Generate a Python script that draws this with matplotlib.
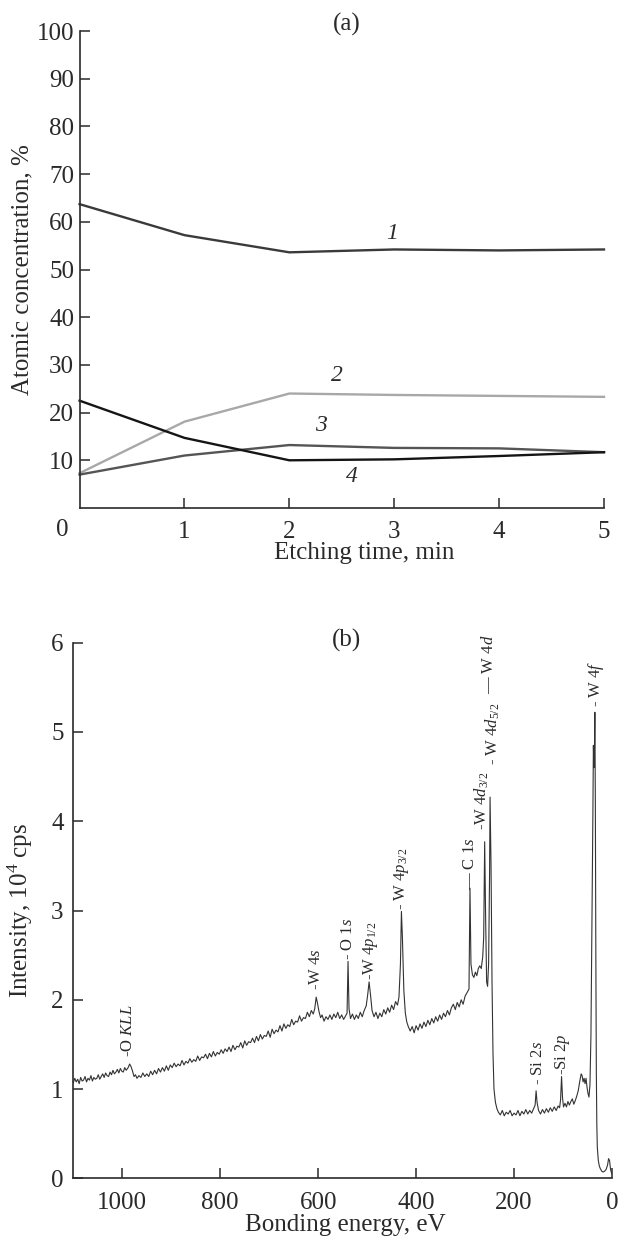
import numpy as np
import matplotlib
matplotlib.use('Agg')
import matplotlib.pyplot as plt

plt.rcParams['font.family'] = ['Liberation Serif', 'DejaVu Serif']
plt.rcParams['mathtext.fontset'] = 'custom'
plt.rcParams['mathtext.rm'] = 'Liberation Serif'
plt.rcParams['mathtext.it'] = 'Liberation Serif:italic'

# ---- (a) depth profile ----
etch_time = [0, 1, 2, 3, 4, 5]
conc_1 = [63.7, 57.2, 53.6, 54.2, 54.0, 54.2]
conc_2 = [7.3, 18.1, 24.0, 23.7, 23.5, 23.3]
conc_3 = [7.0, 11.0, 13.2, 12.6, 12.5, 11.7]
conc_4 = [22.5, 14.7, 10.0, 10.2, 10.9, 11.7]
curve_colors = ['#3a3a3a', '#a8a8a8', '#555555', '#151515']
curve_names = ['1', '2', '3', '4']
curve_label_pos = [(2.98, 57.6), (2.45, 27.8), (2.30, 17.3), (2.60, 6.6)]

# ---- (b) survey spectrum ----
be_high = [1100, 1097, 1094, 1091, 1088, 1085, 1082, 1079, 1076, 1073, 1070, 1067,
           1064, 1061, 1058, 1055, 1052, 1049, 1046, 1043, 1040, 1037, 1034, 1031,
           1028, 1025, 1022, 1019, 1016, 1013, 1010, 1007, 1004, 1001, 998, 995,
           992, 988, 985, 982, 979, 976, 973, 970, 966, 962, 958,
           954, 950, 946, 942, 938, 934, 930, 926, 922, 918, 914, 910, 906, 902,
           898, 894, 890, 886, 882, 878, 874, 870, 866, 862, 858, 854, 850, 846,
           842, 838, 834, 830, 826, 822, 818, 814, 810, 806, 802, 798, 794, 790,
           786, 782, 778, 774, 770, 766, 762, 758, 754, 750, 746, 742, 738, 734,
           730, 726, 722, 718, 714, 710, 706, 702, 698, 694, 690, 686, 682, 678,
           674, 670, 666, 662, 658, 654, 650, 646, 642, 638, 634, 630, 626, 622,
           618, 614, 610]
int_high = [1.07, 1.12, 1.08, 1.11, 1.06, 1.13, 1.09, 1.10, 1.14, 1.08, 1.12, 1.10,
            1.15, 1.09, 1.13, 1.11, 1.12, 1.16, 1.11, 1.14, 1.17, 1.13, 1.18, 1.15,
            1.14, 1.19, 1.16, 1.21, 1.17, 1.19, 1.22, 1.18, 1.23, 1.20, 1.19, 1.24,
            1.21, 1.24, 1.28, 1.25, 1.20, 1.14, 1.16, 1.12, 1.15,
            1.13, 1.18, 1.14, 1.17, 1.14, 1.20, 1.16, 1.21, 1.17, 1.23, 1.19, 1.24,
            1.20, 1.26, 1.21, 1.27, 1.24, 1.29, 1.25, 1.28, 1.26, 1.32, 1.27, 1.31,
            1.29, 1.34, 1.30, 1.33, 1.31, 1.37, 1.32, 1.36, 1.35, 1.39, 1.34, 1.40,
            1.36, 1.42, 1.37, 1.41, 1.39, 1.44, 1.40, 1.45, 1.42, 1.47, 1.42, 1.49,
            1.44, 1.48, 1.47, 1.52, 1.46, 1.54, 1.49, 1.53, 1.52, 1.57, 1.52, 1.59,
            1.54, 1.61, 1.56, 1.60, 1.59, 1.65, 1.58, 1.67, 1.62, 1.66, 1.64, 1.71,
            1.65, 1.73, 1.68, 1.72, 1.70, 1.78, 1.72, 1.76, 1.75, 1.82, 1.76, 1.80,
            1.79, 1.86, 1.81, 1.88, 1.84]
be_mid = [607, 604, 601, 598, 595, 592, 588, 584, 580, 576, 572, 568, 564, 560,
          556, 552, 548, 544, 541, 539, 537, 534, 530, 526, 522, 518, 514, 510,
          506, 502, 499, 496, 493, 490, 486, 482, 478, 474, 470, 466, 462, 458,
          454, 450, 446, 442, 438, 435, 432, 430, 428, 425, 422, 419, 416, 412,
          408, 404, 400, 396, 392, 388, 384, 380, 376, 372, 368, 364, 360, 356,
          352, 348, 344, 340, 336, 332, 328, 324, 320, 316, 312, 308, 304, 300,
          297, 294, 292, 290, 288, 285, 282, 279, 276, 273, 270, 267, 264, 262,
          260, 258, 256, 254, 252, 250, 249, 247, 245, 243, 241, 238, 235, 232]
int_mid = [1.90, 2.03, 1.95, 1.86, 1.80, 1.83, 1.76, 1.81, 1.78, 1.83, 1.78, 1.84,
           1.80, 1.86, 1.79, 1.83, 1.78, 1.82, 1.85, 2.43, 1.90, 1.79, 1.84, 1.78,
           1.83, 1.79, 1.86, 1.81, 1.88, 1.93, 2.05, 2.20, 2.05, 1.88, 1.81, 1.86,
           1.79, 1.85, 1.81, 1.89, 1.84, 1.91, 1.86, 1.94, 1.89, 1.98, 1.94, 2.03,
           2.40, 2.99, 2.70, 2.10, 1.85, 1.75, 1.70, 1.65, 1.70, 1.63, 1.71, 1.66,
           1.73, 1.68, 1.75, 1.70, 1.77, 1.72, 1.79, 1.74, 1.81, 1.76, 1.83, 1.78,
           1.85, 1.81, 1.88, 1.83, 1.91, 1.95, 1.89, 1.97, 1.92, 2.00, 1.95, 2.04,
           2.07, 2.10, 2.12, 3.25, 2.40, 2.28, 2.25, 2.31, 2.27, 2.35, 2.38, 2.35,
           2.48, 2.70, 3.77, 2.90, 2.20, 2.15, 2.40, 3.40, 4.27, 3.50, 2.20, 1.40,
           1.00, 0.85, 0.78, 0.74]
be_low = [228, 224, 220, 216, 212, 208, 204, 200, 196, 192, 188, 184, 180, 176,
          172, 168, 164, 160, 157, 155, 153, 150, 146, 142, 138, 134, 130, 126,
          122, 118, 114, 110, 107, 105, 103, 101, 99, 96, 93, 90, 87, 84, 81, 78,
          75, 72, 69, 66, 63, 61, 59, 57, 55, 53, 51, 49, 47, 45, 43, 41, 39, 38,
          37, 36, 35, 34, 33, 32, 31, 30, 28, 26, 24, 21, 18, 15, 12, 9, 7, 5, 3,
          1, 0]
int_low = [0.71, 0.76, 0.70, 0.74, 0.72, 0.76, 0.70, 0.73, 0.71, 0.76, 0.70, 0.75,
           0.72, 0.77, 0.72, 0.76, 0.73, 0.78, 0.82, 0.98, 0.85, 0.76, 0.72, 0.77,
           0.73, 0.78, 0.74, 0.79, 0.75, 0.80, 0.76, 0.81, 0.79, 0.88, 1.14, 0.90,
           0.80, 0.84, 0.80, 0.86, 0.82, 0.86, 0.89, 0.83, 0.87, 0.92, 0.98, 1.08,
           1.17, 1.15, 1.08, 1.12, 1.06, 1.12, 1.02, 0.95, 0.91, 1.05, 1.60, 2.80,
           4.10, 4.85, 4.60, 4.70, 5.22, 4.20, 2.50, 1.20, 0.60, 0.35, 0.20, 0.14,
           0.11, 0.08, 0.07, 0.08, 0.10, 0.15, 0.22, 0.20, 0.10, 0.06, 0.05]

# peak labels: (energy, intensity where text starts, text)
peak_labels = [
    (988, 1.36, r'-O $KLL$'),
    (604, 2.11, r'-W 4$s$'),
    (540, 2.44, r'- O 1$s$'),
    (494, 2.22, r'-W 4$p_{1/2}$'),
    (429, 3.00, r'- W 4$p_{3/2}$'),
    (290, 3.23, r'— C 1$s$'),
    (265, 3.90, r'-W 4$d_{3/2}$'),
    (243, 4.63, r'- W 4$d_{5/2}$'),
    (251, 5.42, r'— W 4$d$'),
    (33, 5.28, r'- W 4$f$'),
    (151, 1.04, r'- Si 2$s$'),
    (102, 1.16, r'-Si 2$p$'),
]

TICK_FS = 18
INK = '#2a2a2a'

fig = plt.figure(figsize=(6.21, 12.39), dpi=100)
W, H = 621.0, 1239.0


def style_axes(ax):
    for side in ['top', 'right']:
        ax.spines[side].set_visible(False)
    for side in ['left', 'bottom']:
        ax.spines[side].set_linewidth(1.2)
        ax.spines[side].set_color(INK)
    ax.tick_params(direction='in', length=7, width=1.1, color=INK,
                   labelsize=TICK_FS, labelcolor=INK)


# ================= panel (a) =================
ax1 = fig.add_axes([79.6 / W, 1 - 508 / H, 524.4 / W, 477 / H])
style_axes(ax1)
for vals, col in zip([conc_1, conc_2, conc_3, conc_4], curve_colors):
    ax1.plot(etch_time, vals, color=col, lw=1.7, clip_on=False)
for name, (lx, ly) in zip(curve_names, curve_label_pos):
    ax1.text(lx, ly, name, fontsize=17, style='italic', ha='center', va='center', color=INK)
ax1.set_xlim(0, 5)
ax1.set_ylim(0, 100)
ax1.set_xticks([1, 2, 3, 4, 5])
ax1.set_yticks(np.arange(10, 101, 10))
ax1.tick_params(axis='x', pad=9)
ax1.tick_params(axis='y', pad=4)
ax1.text(-17 / 524.4, -22 / 477, '0', transform=ax1.transAxes, fontsize=TICK_FS,
         ha='center', va='center', color=INK)
ax1.set_xlabel('Etching time, min', fontsize=TICK_FS, color=INK)
ax1.xaxis.set_label_coords(0.542, -0.072)
ax1.set_ylabel('Atomic concentration, %', fontsize=TICK_FS, color=INK)
ax1.yaxis.set_label_coords(-0.088, 0.5)
ax1.text(0.509, 1.013, '(a)', transform=ax1.transAxes, fontsize=TICK_FS,
         ha='center', va='center', color=INK)

# ================= panel (b) =================
ax2 = fig.add_axes([73.3 / W, 1 - 1178.3 / H, 538.7 / W, 535.6 / H])
style_axes(ax2)
energy = be_high + be_mid + be_low
intensity = int_high + int_mid + int_low
ax2.plot(energy, intensity, color='#333333', lw=0.8)
for e, y, txt in peak_labels:
    ax2.text(e, y, txt, rotation=90, fontsize=12, ha='center', va='bottom', color=INK)
ax2.set_xlim(1100, 0)
ax2.set_ylim(0, 6)
ax2.set_xticks([1000, 800, 600, 400, 200, 0])
ax2.set_yticks([0, 1, 2, 3, 4, 5, 6])
ax2.tick_params(axis='x', pad=10)
ax2.tick_params(axis='y', pad=7)
ax2.set_xlabel('Bonding energy, eV', fontsize=TICK_FS, color=INK)
ax2.xaxis.set_label_coords(0.505, -0.066)
ax2.set_ylabel(r'Intensity, 10$^4$ cps', fontsize=TICK_FS, color=INK)
ax2.yaxis.set_label_coords(-0.072, 0.5)
ax2.text(0.507, 1.004, '(b)', transform=ax2.transAxes, fontsize=TICK_FS,
         ha='center', va='center', color=INK)

fig.savefig('out.png', dpi=100)
